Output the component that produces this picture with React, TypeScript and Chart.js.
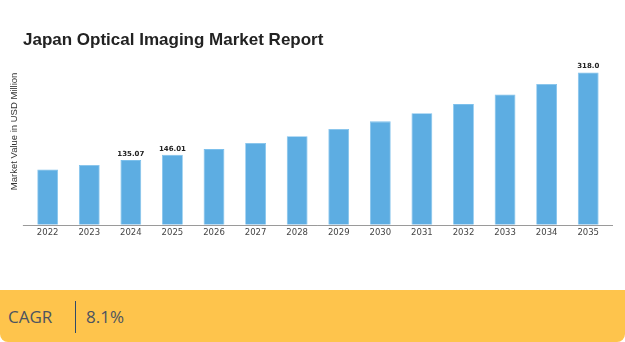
import React, { useEffect, useRef } from "react";
import { Chart, registerables } from "chart.js";

Chart.register(...registerables);

const years: string[] = ["2022", "2023", "2024", "2025", "2026", "2027", "2028", "2029", "2030", "2031", "2032", "2033", "2034", "2035"];
const marketValues: number[] = [115.6, 125.0, 135.07, 146.01, 158.0, 171.0, 185.0, 200.0, 216.0, 233.0, 252.0, 272.0, 294.0, 318.0];
const valueLabels: string[] = ["", "", "135.07", "146.01", "", "", "", "", "", "", "", "", "", "318.0"];
const chartTitle = "Japan Optical Imaging Market Report";
const yAxisTitle = "Market Value in USD Million";
const cagrLabel = "CAGR";
const cagrValue = "8.1%";

const valueLabelPlugin = {
  id: "valueLabels",
  afterDatasetsDraw(chart: any) {
    const meta = chart.getDatasetMeta(0);
    const ctx = chart.ctx;
    ctx.save();
    ctx.font = "bold 7px 'DejaVu Sans'";
    ctx.fillStyle = "#222222";
    ctx.textAlign = "center";
    ctx.textBaseline = "alphabetic";
    meta.data.forEach((bar: any, i: number) => {
      const txt = valueLabels[i];
      if (txt) ctx.fillText(txt, bar.x, bar.y - 4);
    });
    ctx.restore();
  },
};

const baselinePlugin = {
  id: "baseline",
  afterDatasetsDraw(chart: any) {
    const { ctx, chartArea } = chart;
    const y = chart.scales.y.getPixelForValue(0);
    ctx.save();
    ctx.strokeStyle = "#9a9a9a";
    ctx.lineWidth = 1;
    ctx.beginPath();
    ctx.moveTo(chartArea.left - 4, Math.round(y) + 0.5);
    ctx.lineTo(chartArea.right + 4, Math.round(y) + 0.5);
    ctx.stroke();
    ctx.restore();
  },
};

export default function App() {
  const canvasRef = useRef<HTMLCanvasElement | null>(null);

  useEffect(() => {
    document.body.style.margin = "0";
    const canvas = canvasRef.current;
    if (!canvas) return;
    const chart = new Chart(canvas, {
      type: "bar",
      data: {
        labels: years,
        datasets: [
          {
            data: marketValues,
            backgroundColor: "#5DADE2",
            borderColor: "#7cc0ec",
            borderWidth: 0.8,
            barPercentage: 0.5,
            categoryPercentage: 1,
          },
        ],
      },
      options: {
        animation: false,
        responsive: false,
        maintainAspectRatio: false,
        layout: { padding: { left: 0, right: 16, top: 38, bottom: 49 } },
        plugins: {
          legend: { display: false },
          tooltip: { enabled: false },
          title: { display: false },
        },
        scales: {
          x: {
            offset: true,
            grid: { display: false, drawTicks: false },
            border: { display: false },
            ticks: {
              font: { family: "'DejaVu Sans'", size: 8.5 },
              color: "#444444",
              padding: 3,
              maxRotation: 0,
              autoSkip: false,
            },
          },
          y: {
            min: 0,
            max: 390,
            grid: { display: false, drawTicks: false },
            border: { display: false },
            ticks: { display: false },
            title: {
              display: true,
              text: yAxisTitle,
              font: { family: "'Liberation Sans', Arial, sans-serif", size: 9.5 },
              color: "#333333",
              padding: { top: 8.5, bottom: 7 },
            },
          },
        },
      },
      plugins: [baselinePlugin, valueLabelPlugin],
    });
    return () => chart.destroy();
  }, []);

  return (
    <div style={{ position: "absolute", left: 0, top: 0, width: 625, height: 342, background: "#ffffff", overflow: "hidden" }}>
      <canvas ref={canvasRef} width={625} height={290} style={{ position: "absolute", left: 0, top: 0, width: 625, height: 290 }} />
      <div
        style={{
          position: "absolute",
          left: 23,
          top: 30,
          fontFamily: "'Liberation Sans', Arial, sans-serif",
          fontWeight: "bold",
          fontSize: 17,
          lineHeight: "20px",
          color: "#222222",
          whiteSpace: "nowrap",
        }}
      >
        {chartTitle}
      </div>
      <div
        style={{
          position: "absolute",
          left: 0,
          top: 290,
          width: 625,
          height: 52,
          background: "#FEC44C",
          borderBottomLeftRadius: 8,
          borderBottomRightRadius: 8,
          fontFamily: "'Open Sans', sans-serif",
          fontSize: 17,
          color: "#4c5360",
        }}
      >
        <span style={{ position: "absolute", left: 8, top: 15, lineHeight: "24px" }}>{cagrLabel}</span>
        <div style={{ position: "absolute", left: 75, top: 11, width: 1, height: 32, background: "#2f4a68" }} />
        <span style={{ position: "absolute", left: 86, top: 15, lineHeight: "24px" }}>{cagrValue}</span>
      </div>
    </div>
  );
}
